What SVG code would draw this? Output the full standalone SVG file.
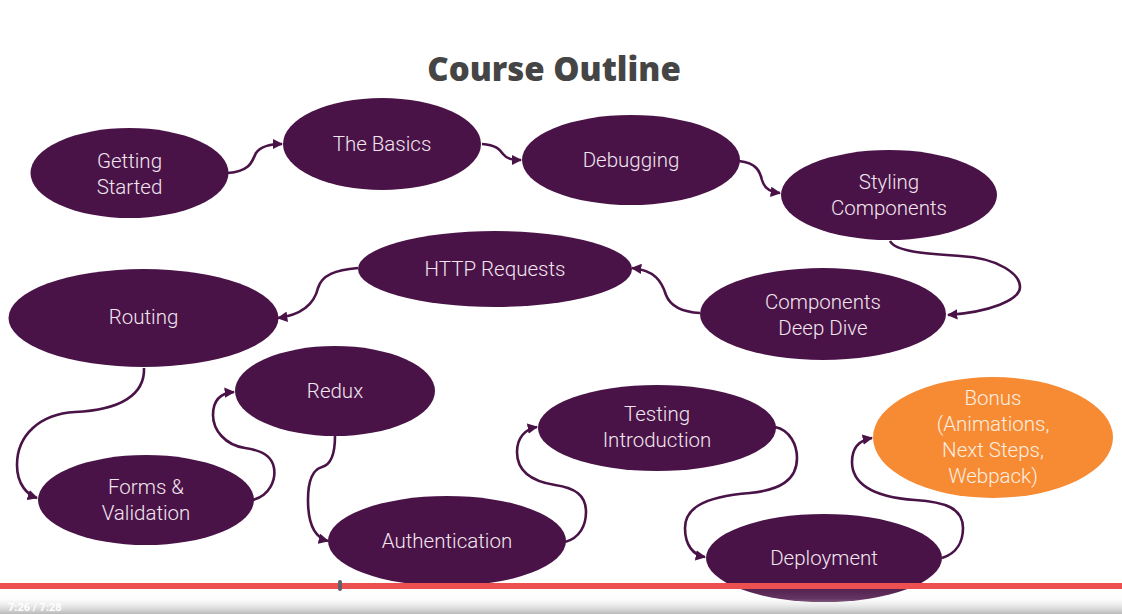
<svg xmlns="http://www.w3.org/2000/svg" width="1122" height="614" viewBox="0 0 1122 614">
<defs>
<style>
.n{fill:#4a1347}
.o{fill:#f68b34}
.t{font-family:Roboto,"Open Sans",sans-serif;font-weight:300;font-size:20.5px;fill:#f1e6f0;text-anchor:middle}
.to{font-family:Roboto,"Open Sans",sans-serif;font-weight:300;font-size:20.5px;fill:#fdeee0;text-anchor:middle}
.c{fill:none;stroke:#4a1347;stroke-width:2.6;marker-end:url(#ah)}
.title{font-family:"Open Sans",Lato,sans-serif;font-weight:800;font-size:33px;fill:#454545;text-anchor:middle}
</style>
<marker id="ah" viewBox="0 0 10 10" refX="9" refY="5" markerWidth="4" markerHeight="4" orient="auto" markerUnits="strokeWidth">
<path d="M0,0 L10,5 L0,10 z" fill="#4a1347"/>
</marker>
<linearGradient id="bar" x1="0" y1="0" x2="0" y2="1">
<stop offset="0" stop-color="#ffffff" stop-opacity="0"/>
<stop offset="0.5" stop-color="#eeeeee" stop-opacity="0.15"/>
<stop offset="1" stop-color="#b5b5b5" stop-opacity="0.95"/>
</linearGradient>
</defs>
<rect width="1122" height="614" fill="#ffffff"/>
<text class="title" x="554" y="81">Course Outline</text>
<g id="connectors">
<path class="c" d="M228,173 C252,171 252,160 256,153 C261,146 270,144 282,144"/>
<path class="c" d="M482,144 C497,145 500,150 503,154 C507,159 512,160 521,160"/>
<path class="c" d="M739,161 C757,163 760,172 762,180 C765,190 772,192 780,193"/>
<path class="c" d="M890,241 C895,252 930,254 960,256 C1000,258 1020,275 1020,287 C1020,300 990,312 948,315"/>
<path class="c" d="M700,313 C680,312 670,305 666,295 C662,282 655,270 632,268"/>
<path class="c" d="M358,268 C335,270 322,275 318,288 C314,305 300,315 278,318"/>
<path class="c" d="M144,368 C145,395 120,410 75,412 C40,414 17,435 17,465 C17,485 28,495 37,498"/>
<path class="c" d="M253,500 C270,495 276,480 274,468 C272,455 260,450 245,448 C225,445 213,430 213,415 C213,400 220,393 234,392"/>
<path class="c" d="M335,436 C335,455 330,465 322,467 C311,470 308,485 308,500 C308,525 316,538 328,541"/>
<path class="c" d="M565,542 C580,538 586,525 586,512 C586,495 575,488 555,485 C530,481 517,470 517,452 C517,438 525,429 537,427"/>
<path class="c" d="M775,427 C790,430 797,445 797,458 C797,480 780,490 750,493 C700,497 685,510 685,528 C685,545 693,555 705,557"/>
<path class="c" d="M942,558 C958,553 963,540 963,528 C963,508 945,502 915,500 C870,497 852,482 852,462 C852,447 860,440 872,438"/>
</g>
<g id="getting-started"><ellipse class="n" cx="129.5" cy="173" rx="99" ry="45"/><text class="t" x="129.5" y="168">Getting</text><text class="t" x="129.5" y="194">Started</text></g>
<g id="the-basics"><ellipse class="n" cx="382" cy="144" rx="99" ry="46"/><text class="t" x="382" y="151">The Basics</text></g>
<g id="debugging"><ellipse class="n" cx="631" cy="160" rx="109" ry="45"/><text class="t" x="631" y="167">Debugging</text></g>
<g id="styling-components"><ellipse class="n" cx="889" cy="195" rx="108" ry="45"/><text class="t" x="889" y="189">Styling</text><text class="t" x="889" y="215">Components</text></g>
<g id="http-requests"><ellipse class="n" cx="495" cy="269" rx="137" ry="38"/><text class="t" x="495" y="276">HTTP Requests</text></g>
<g id="components-deep-dive"><ellipse class="n" cx="823" cy="314" rx="123" ry="46"/><text class="t" x="823" y="309">Components</text><text class="t" x="823" y="335">Deep Dive</text></g>
<g id="routing"><ellipse class="n" cx="143.5" cy="318" rx="135" ry="49"/><text class="t" x="143.5" y="324">Routing</text></g>
<g id="redux"><ellipse class="n" cx="335" cy="391" rx="100" ry="45"/><text class="t" x="335" y="398">Redux</text></g>
<g id="forms-validation"><ellipse class="n" cx="146" cy="500" rx="108" ry="45"/><text class="t" x="146" y="494">Forms &amp;</text><text class="t" x="146" y="520">Validation</text></g>
<g id="authentication"><ellipse class="n" cx="447" cy="541" rx="119" ry="45"/><text class="t" x="447" y="548">Authentication</text></g>
<g id="testing-introduction"><ellipse class="n" cx="657" cy="428" rx="119" ry="43"/><text class="t" x="657" y="421">Testing</text><text class="t" x="657" y="447">Introduction</text></g>
<g id="deployment"><ellipse class="n" cx="824" cy="558" rx="118" ry="44"/><text class="t" x="824" y="565">Deployment</text></g>
<g id="bonus"><ellipse class="o" cx="993" cy="437.5" rx="120" ry="60.5"/><text class="to" x="993" y="405">Bonus</text><text class="to" x="993" y="431">(Animations,</text><text class="to" x="993" y="457">Next Steps,</text><text class="to" x="993" y="483">Webpack)</text></g>
<g id="player">
<rect x="0" y="583" width="1122" height="31" fill="url(#bar)"/>
<rect x="0" y="583" width="1122" height="6" fill="#ec5050"/>
<rect x="338" y="580" width="4" height="11" rx="2" fill="#5f6368"/>
<text x="8" y="611" font-family="Roboto,sans-serif" font-size="11" font-weight="bold" fill="#ffffff">7:26 / 7:28</text>
</g>
</svg>
